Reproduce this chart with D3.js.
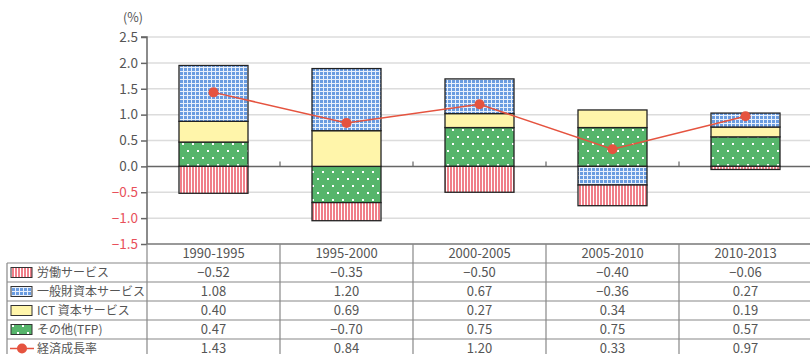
<!DOCTYPE html>
<html>
<head>
<meta charset="utf-8">
<script src="https://cdn.jsdelivr.net/npm/d3@7"></script>
<style>
  body { margin: 0; background: #fff; }
  text { font-family: "Noto Sans CJK JP", "Noto Sans", sans-serif; }
</style>
</head>
<body>
<svg id="chart" width="810" height="354"></svg>
<script>
// data
var periods = ["1990-1995", "1995-2000", "2000-2005", "2005-2010", "2010-2013"];
var labour = [-0.52, -0.35, -0.50, -0.40, -0.06];
var generalCapital = [1.08, 1.20, 0.67, -0.36, 0.27];
var ictCapital = [0.40, 0.69, 0.27, 0.34, 0.19];
var tfp = [0.47, -0.70, 0.75, 0.75, 0.57];
var growth = [1.43, 0.84, 1.20, 0.33, 0.97];
var yTicks = [2.5, 2.0, 1.5, 1.0, 0.5, 0.0, -0.5, -1.0, -1.5];

var rowNames = ["労働サービス", "一般財資本サービス", "ICT 資本サービス", "その他(TFP)", "経済成長率"];
var rowValues = [labour, generalCapital, ictCapital, tfp, growth];

var svg = d3.select("#chart");
var defs = svg.append("defs");

// patterns
var pRed = defs.append("pattern").attr("id", "pRed").attr("patternUnits", "userSpaceOnUse")
  .attr("width", 3).attr("height", 3);
pRed.append("rect").attr("width", 3).attr("height", 3).attr("fill", "#fff");
pRed.append("rect").attr("width", 2).attr("height", 3).attr("fill", "#f07f89");

var pBlue = defs.append("pattern").attr("id", "pBlue").attr("patternUnits", "userSpaceOnUse")
  .attr("width", 4).attr("height", 4);
pBlue.append("rect").attr("width", 4).attr("height", 4).attr("fill", "#6a9ce0");
pBlue.append("rect").attr("x", 3).attr("width", 1).attr("height", 4).attr("fill", "#e8f0fb");
pBlue.append("rect").attr("y", 3).attr("width", 4).attr("height", 1).attr("fill", "#e8f0fb");

var pGreen = defs.append("pattern").attr("id", "pGreen").attr("patternUnits", "userSpaceOnUse")
  .attr("width", 10).attr("height", 14);
pGreen.append("rect").attr("width", 10).attr("height", 14).attr("fill", "#56b56b");
pGreen.append("rect").attr("x", 2).attr("y", 3).attr("width", 2).attr("height", 2).attr("fill", "#fff");
pGreen.append("rect").attr("x", 7).attr("y", 10).attr("width", 2).attr("height", 2).attr("fill", "#fff");

var fills = { tfp: "url(#pGreen)", ict: "#fff5aa", general: "url(#pBlue)", labour: "url(#pRed)" };

var plotLeft = 147, plotRight = 812, plotTop = 37, plotBottom = 244;

var x = d3.scaleBand().domain(periods).range([plotLeft, plotRight]);
var y = d3.scaleLinear().domain([-1.5, 2.5]).range([plotBottom, plotTop]);
var barW = 69;

// gridlines
svg.append("g").selectAll("line").data(yTicks.filter(function(d){ return d !== 0 && d !== -1.5; }))
  .enter().append("line")
  .attr("x1", plotLeft).attr("x2", 810)
  .attr("y1", function(d){ return y(d); }).attr("y2", function(d){ return y(d); })
  .attr("stroke", "#dcdcdc").attr("stroke-width", 1.5);

// stacked bars
var table = periods.map(function(p, i) {
  return { period: p, tfp: tfp[i], ict: ictCapital[i], general: generalCapital[i], labour: labour[i] };
});
var stack = d3.stack().keys(["tfp", "ict", "general", "labour"]).offset(d3.stackOffsetDiverging);
var series = stack(table);

// zero line
svg.append("line").attr("x1", plotLeft).attr("x2", 810).attr("y1", y(0)).attr("y2", y(0))
  .attr("stroke", "#666").attr("stroke-width", 1.5);

svg.append("g").selectAll("g").data(series).enter().append("g")
  .attr("fill", function(s){ return fills[s.key]; })
  .selectAll("rect").data(function(s){ return s; }).enter().append("rect")
  .attr("x", function(d){ return x(d.data.period) + x.bandwidth() / 2 - barW / 2; })
  .attr("width", barW)
  .attr("y", function(d){ return y(Math.max(d[0], d[1])); })
  .attr("height", function(d){ return Math.abs(y(d[0]) - y(d[1])); })
  .attr("stroke", "#222").attr("stroke-width", 1.3);

// small ticks on zero line between categories
svg.append("g").selectAll("line").data(periods.slice(1)).enter().append("line")
  .attr("x1", function(d){ return x(d); }).attr("x2", function(d){ return x(d); })
  .attr("y1", y(0) - 5).attr("y2", y(0))
  .attr("stroke", "#666").attr("stroke-width", 1.2);

// growth line
var line = d3.line()
  .x(function(d, i){ return x(periods[i]) + x.bandwidth() / 2; })
  .y(function(d){ return y(d); });
svg.append("path").datum(growth).attr("d", line)
  .attr("fill", "none").attr("stroke", "#e5533f").attr("stroke-width", 1.5);
svg.append("g").selectAll("circle").data(growth).enter().append("circle")
  .attr("cx", function(d, i){ return x(periods[i]) + x.bandwidth() / 2; })
  .attr("cy", function(d){ return y(d); })
  .attr("r", 5).attr("fill", "#e5533f");

// y axis
var yAxis = d3.axisLeft(y).tickValues(yTicks).tickSize(6)
  .tickFormat(function(d){ return d < 0 ? "\u2212" + d3.format(".1f")(-d) : d3.format(".1f")(d); });
var ga = svg.append("g").attr("transform", "translate(" + plotLeft + ",0)").call(yAxis);
ga.select(".domain").attr("stroke", "#666").attr("stroke-width", 1.5).attr("d", "M-6," + plotTop + "H0V" + plotBottom);
ga.selectAll(".tick line").attr("stroke", "#666").attr("stroke-width", 1.5);
ga.selectAll(".tick text").attr("x", -9).attr("font-size", 13.5)
  .attr("fill", function(d){ return d < 0 ? "#e8505a" : "#555"; });

svg.append("text").attr("x", 133).attr("y", 22).attr("text-anchor", "middle")
  .attr("font-size", 12.5).attr("fill", "#555").text("(%)");

// table
var rowH = 19;
var tableTop = plotBottom;
var tg = svg.append("g");
// header row
tg.append("line").attr("x1", plotLeft).attr("x2", 810).attr("y1", tableTop).attr("y2", tableTop)
  .attr("stroke", "#777").attr("stroke-width", 1.5);
tg.selectAll(".hdr").data(periods).enter().append("text")
  .attr("x", function(d){ return x(d) + x.bandwidth() / 2; })
  .attr("y", tableTop + 14).attr("text-anchor", "middle")
  .attr("font-size", 13).attr("fill", "#555").text(function(d){ return d; });

// horizontal row lines
var rowTops = rowNames.map(function(d, i){ return tableTop + rowH * (i + 1); });
tg.selectAll(".hl").data(rowTops).enter().append("line")
  .attr("x1", 7).attr("x2", 810)
  .attr("y1", function(d){ return d; }).attr("y2", function(d){ return d; })
  .attr("stroke", "#888").attr("stroke-width", 1.2);

// vertical lines
tg.append("line").attr("x1", 7).attr("x2", 7).attr("y1", rowTops[0]).attr("y2", 354)
  .attr("stroke", "#888").attr("stroke-width", 1.2);
tg.selectAll(".vl").data(periods).enter().append("line")
  .attr("x1", function(d){ return x(d); }).attr("x2", function(d){ return x(d); })
  .attr("y1", tableTop).attr("y2", 354)
  .attr("stroke", "#888").attr("stroke-width", 1.2);

// values
var fmt = function(v){ return v < 0 ? "\u2212" + d3.format(".2f")(-v) : d3.format(".2f")(v); };
rowValues.forEach(function(vals, r) {
  tg.selectAll(".v" + r).data(vals).enter().append("text")
    .attr("x", function(d, i){ return x(periods[i]) + x.bandwidth() / 2; })
    .attr("y", rowTops[r] + 14).attr("text-anchor", "middle")
    .attr("font-size", 13).attr("fill", "#555").text(fmt);
});

// legend labels
var swatchFills = [fills.labour, fills.general, fills.ict, fills.tfp];
rowNames.forEach(function(name, r) {
  var cy = rowTops[r] + rowH / 2;
  if (r < 4) {
    tg.append("rect").attr("x", 11).attr("y", cy - 5).attr("width", 21).attr("height", 10)
      .attr("fill", swatchFills[r]).attr("stroke", "#333").attr("stroke-width", 1);
  } else {
    tg.append("line").attr("x1", 10).attr("x2", 34).attr("y1", cy).attr("y2", cy)
      .attr("stroke", "#e5533f").attr("stroke-width", 1.5);
    tg.append("circle").attr("cx", 22).attr("cy", cy).attr("r", 5).attr("fill", "#e5533f");
  }
  tg.append("text").attr("x", 37).attr("y", cy + 4.5)
    .attr("font-size", 12).attr("fill", "#555").text(name);
});
</script>
</body>
</html>
